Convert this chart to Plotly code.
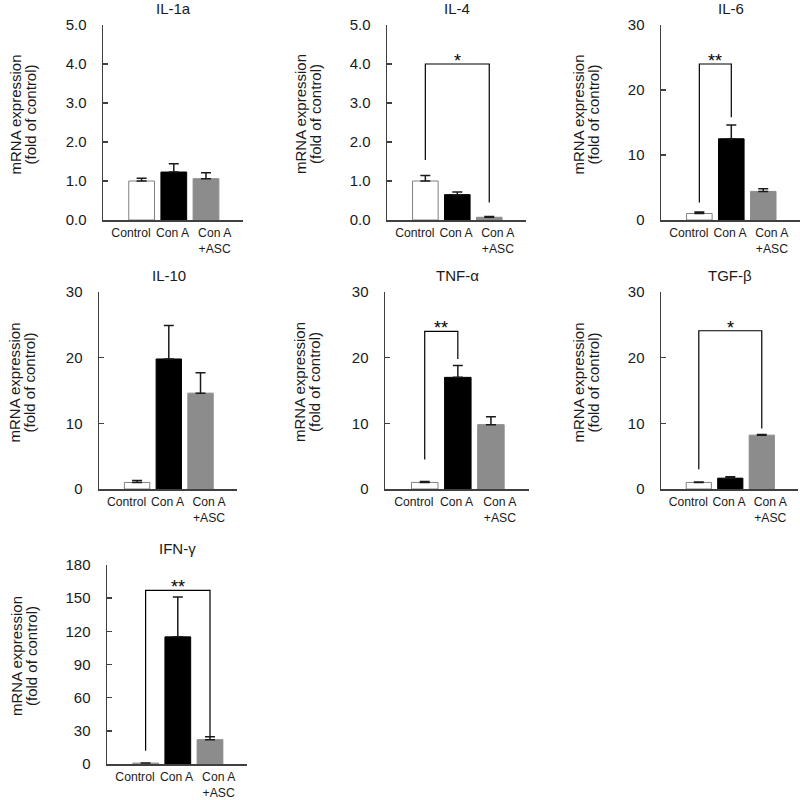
import plotly.graph_objects as go

# ---------------- data ----------------
categories = ["Control", "Con A", "Con A<br>+ASC"]

il1a_mean = [1.0, 1.23, 1.06]
il1a_err = [0.07, 0.21, 0.15]
il4_mean = [1.0, 0.65, 0.07]
il4_err = [0.14, 0.07, 0.02]
il6_mean = [1.0, 12.5, 4.4]
il6_err = [0.25, 2.1, 0.4]
il10_mean = [1.0, 19.8, 14.6]
il10_err = [0.3, 5.1, 3.1]
tnf_mean = [1.0, 17.0, 9.8]
tnf_err = [0.15, 1.8, 1.2]
tgf_mean = [1.0, 1.65, 8.2]
tgf_err = [0.05, 0.2, 0.1]
ifn_mean = [0.8, 115.0, 22.0]
ifn_err = [0.2, 36.0, 2.7]

titles = ["IL-1a", "IL-4", "IL-6", "IL-10", "TNF-α", "TGF-β", "IFN-γ"]
y_max = [5, 5, 30, 30, 30, 30, 180]
y_dtick = [1, 1, 10, 10, 10, 10, 30]

# significance brackets: panel index, left x, right x, top y, left leg bottom, right leg bottom, label
brackets = [
    (1, 0, 2, 4.0, 1.54, 0.45, "*"),
    (2, 0, 1, 24.0, 2.7, 15.8, "**"),
    (4, 0, 1, 24.0, 4.5, 19.8, "**"),
    (5, 0, 2, 24.1, 3.0, 9.2, "*"),
    (6, 0, 2, 157.0, 12.0, 25.0, "**"),
]

means = [il1a_mean, il4_mean, il6_mean, il10_mean, tnf_mean, tgf_mean, ifn_mean]
errs = [il1a_err, il4_err, il6_err, il10_err, tnf_err, tgf_err, ifn_err]

# ---------------- layout geometry (pixels) ----------------
W = H = 800
xdom_px = [(103, 243), (387, 526), (661, 800), (99, 237), (385, 529), (661, 798), (107, 247)]
ydom_px = [(25, 220), (25, 220), (25, 220), (292, 489), (292, 489), (292, 489), (565, 764)]
ytitle_px = [15, 300.5, 578, 14, 299.5, 578, 16.5]

FONT = "Liberation Sans, Arial, sans-serif"
AXC = "#404040"
fill_colors = ["#ffffff", "#000000", "#8c8c8c"]
line_colors = ["#808080", "#000000", "#8c8c8c"]

fig = go.Figure()
layout = dict(
    template="none",
    width=W, height=H, autosize=False,
    margin=dict(l=0, r=0, t=0, b=0, pad=0, autoexpand=False),
    paper_bgcolor="white", plot_bgcolor="white", showlegend=False,
    font=dict(family=FONT, color="#1a1a1a"),
)
annotations = []
shapes = []

for i in range(7):
    n = "" if i == 0 else str(i + 1)
    xa, ya = "x" + n, "y" + n
    fig.add_trace(go.Bar(
        x=[0, 1, 2], y=means[i], xaxis=xa, yaxis=ya, width=0.8,
        marker=dict(color=fill_colors, line=dict(color=line_colors, width=1)),
        error_y=dict(type="data", array=errs[i], arrayminus=[0, 0, 0], symmetric=False,
                     color="#1a1a1a", thickness=1.5, width=5),
        hoverinfo="skip",
    ))
    x0, x1 = xdom_px[i]
    yt, yb = ydom_px[i]
    layout["xaxis" + n] = dict(
        domain=[x0 / W, x1 / W], range=[-1.2, 3.15], anchor=ya, automargin=False,
        showline=True, linecolor=AXC, linewidth=1.5,
        tickvals=[-0.33, 0.96, 2.27], ticktext=categories, ticks="",
        tickfont=dict(size=12.2, family=FONT, color="#1a1a1a"),
        showgrid=False, zeroline=False, fixedrange=True, ticklabelstandoff=1,
    )
    layout["yaxis" + n] = dict(
        domain=[1 - yb / H, 1 - yt / H], range=[0, y_max[i]], anchor=xa, automargin=False,
        showline=True, linecolor=AXC, linewidth=1.5,
        ticks="inside", ticklen=5, tickcolor=AXC, tickwidth=1.5,
        dtick=y_dtick[i], tick0=0, tickformat=".1f" if y_max[i] == 5 else "d",
        tickfont=dict(size=15, family=FONT, color="#1a1a1a"),
        showgrid=False, zeroline=False, fixedrange=True, ticklabelstandoff=12,
    )
    annotations.append(dict(
        text=titles[i], xref=xa, x=1, yref="paper", y=1 - (yt - 16.5) / H,
        xanchor="center", yanchor="middle", showarrow=False,
        font=dict(size=15, family=FONT, color="#1a1a1a"),
    ))
    ymid = (yt + yb) / 2 - 8
    for k, txt in enumerate(["mRNA expression", "(fold of control)"]):
        annotations.append(dict(
            text=txt, xref="paper", x=(ytitle_px[i] + 15 * k) / W,
            yref="paper", y=1 - ymid / H, textangle=-90,
            xanchor="center", yanchor="middle", showarrow=False,
            font=dict(size=15, family=FONT, color="#1a1a1a"),
        ))

for (i, bx0, bx1, btop, bl, br, lab) in brackets:
    n = "" if i == 0 else str(i + 1)
    xa, ya = "x" + n, "y" + n
    shapes.append(dict(
        type="path", xref=xa, yref=ya,
        path=f"M {bx0},{bl} L {bx0},{btop} L {bx1},{btop} L {bx1},{br}",
        line=dict(color="#000000", width=1.2),
    ))
    annotations.append(dict(
        text=lab, xref=xa, x=(bx0 + bx1) / 2, yref=ya, y=btop,
        xanchor="center", yanchor="middle", yshift=3, showarrow=False,
        font=dict(size=18, family=FONT, color="#000000"),
    ))

layout["annotations"] = annotations
layout["shapes"] = shapes
fig.update_layout(**layout)
fig.write_html(
    "out.html",
    config={"displayModeBar": False, "staticPlot": True},
    post_script="document.body.style.margin='0';document.body.style.padding='0';document.body.style.overflow='hidden';",
)
